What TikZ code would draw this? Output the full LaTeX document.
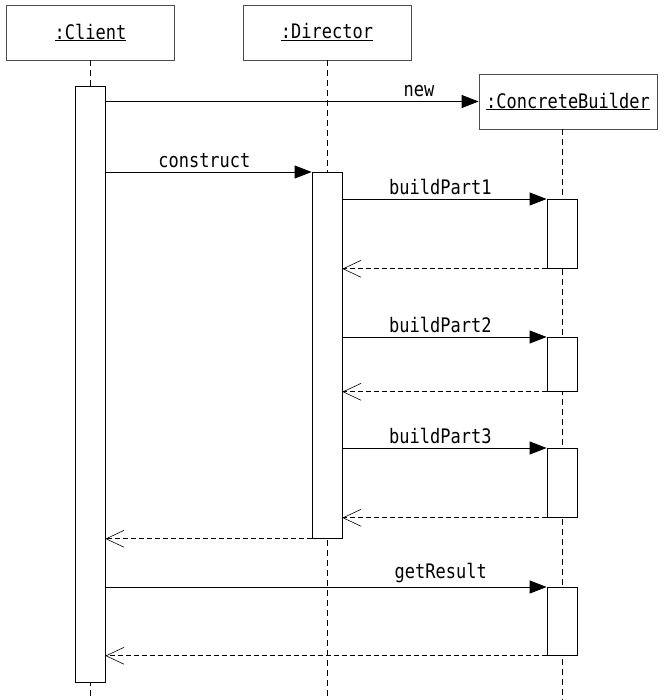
\documentclass[tikz,border=0pt]{standalone}
\usepackage{fontspec}
\setmonofont[FakeStretch=0.85]{DejaVu Sans Mono}
\usetikzlibrary{arrows.meta}

\begin{document}
\begin{tikzpicture}[x=1pt,y=-1pt,line width=0.8pt,
  font=\ttfamily\fontsize{20pt}{22pt}\selectfont,
  obj/.style={draw=black!70,fill=white,minimum height=55pt,inner sep=0pt},
  act/.style={draw,fill=white,minimum width=30pt,inner sep=0pt,anchor=north},
  life/.style={dash pattern=on 6pt off 4pt},
  msg/.style={-{Triangle[length=17pt,width=13pt]}},
  lbl/.style={above,inner sep=4pt},
  ret/.style={dash pattern=on 5pt off 3pt,-{Straight Barb[length=18pt,width=17pt,line width=0.6pt]}}]
\useasboundingbox (0,0) rectangle (663,700);
% objects
\node[obj,minimum width=168pt] (client) at (90.5,32.5) {\underline{:Client}};
\node[obj,minimum width=168pt] (director) at (327,32.5) {\underline{:Director}};
\node[obj,minimum width=178pt] (builder) at (568,101.5) {\underline{:ConcreteBuilder}};
% lifelines
\coordinate (cend) at (90,700);
\coordinate (dend) at (327,700);
\coordinate (bend) at (562,700);
\draw[life] (client.south -| cend) -- (cend);
\draw[life] (director.south -| dend) -- (dend);
\draw[life] (builder.south -| bend) -- (bend);
% activations
\node[act,minimum height=596pt] (cact) at (90,86) {};
\node[act,minimum height=366pt] (dact) at (327,172) {};
\node[act,minimum height=69pt] (b1) at (562,199) {};
\node[act,minimum height=54pt] (b2) at (562,337) {};
\node[act,minimum height=69pt] (b3) at (562,448) {};
\node[act,minimum height=68pt] (b4) at (562,587) {};
% messages
\draw[msg] (builder.west -| cact.east) -- node[lbl,pos=0.84] (lnew) {new} (builder.west);
\draw[msg] (dact.north west -| cact.east) -- node[lbl,pos=0.48] (lcon) {construct} (dact.north west);
\foreach \b/\t in {b1/buildPart1,b2/buildPart2,b3/buildPart3}{
  \draw[msg] (\b.north west -| dact.east) -- node[lbl,pos=0.48] {\t} (\b.north west);
  \draw[ret] (\b.south west) -- (\b.south west -| dact.east);
}
\draw[ret] (dact.south west) -- (dact.south west -| cact.east);
\draw[msg] (b4.north west -| cact.east) -- node[lbl,pos=0.76] (lget) {getResult} (b4.north west);
\draw[ret] (b4.south west) -- (b4.south west -| cact.east);
\end{tikzpicture}
\end{document}
